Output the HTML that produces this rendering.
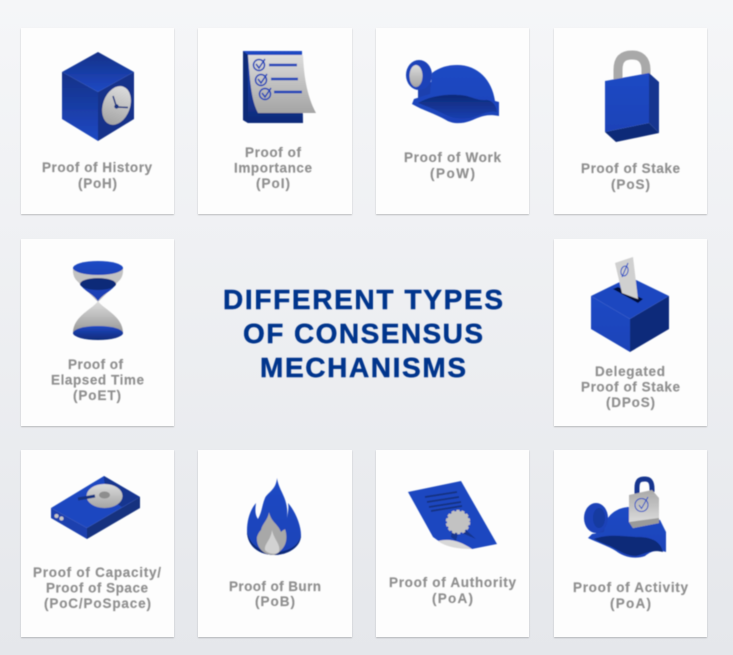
<!DOCTYPE html>
<html lang="en">
<head>
<meta charset="utf-8">
<title>Different Types of Consensus Mechanisms</title>
<style>
html,body{margin:0;padding:0;width:733px;height:655px;overflow:hidden;background:#eceef1}
svg{display:block}
.card{fill:#fdfdfd;filter:url(#cardShadow)}
.lbl{font-family:"Liberation Sans",sans-serif;font-weight:700;font-size:13.5px;fill:#8f8f8f;stroke:#8f8f8f;stroke-width:.15}
.ttl{font-family:"Liberation Sans",sans-serif;font-weight:700;font-size:28px;fill:#05348c;stroke:#05348c;stroke-width:.45}
</style>
</head>
<body>
<svg xmlns="http://www.w3.org/2000/svg" width="733" height="655" viewBox="0 0 733 655">
<defs>
<linearGradient id="pageBg" x1="0" y1="0" x2="0" y2="1"><stop offset="0" stop-color="#f5f6f8"/><stop offset="1" stop-color="#e5e7eb"/></linearGradient>
<linearGradient id="blue" x1="0" y1="0" x2="0" y2="1"><stop offset="0" stop-color="#2049c4"/><stop offset="1" stop-color="#1c43b8"/></linearGradient>
<linearGradient id="blueDown" x1="0" y1="0" x2="0" y2="1"><stop offset="0" stop-color="#123187"/><stop offset="1" stop-color="#2049c4"/></linearGradient>
<linearGradient id="blueUp" x1="0" y1="0" x2="0" y2="1"><stop offset="0" stop-color="#2049c4"/><stop offset="1" stop-color="#0f2a78"/></linearGradient>
<linearGradient id="navy" x1="0" y1="0" x2="0" y2="1"><stop offset="0" stop-color="#0e2a78"/><stop offset="1" stop-color="#1a3fb0"/></linearGradient>
<linearGradient id="navySide" x1="0" y1="0" x2="0" y2="1"><stop offset="0" stop-color="#12307f"/><stop offset="1" stop-color="#1c43b0"/></linearGradient>
<linearGradient id="grey" x1="0" y1="0" x2="0" y2="1"><stop offset="0" stop-color="#dcdcdc"/><stop offset="1" stop-color="#a4a4a4"/></linearGradient>
<linearGradient id="greyUp" x1="0" y1="0" x2="0" y2="1"><stop offset="0" stop-color="#a9a9a9"/><stop offset="1" stop-color="#e4e4e4"/></linearGradient>
<linearGradient id="greyWaist" x1="0" y1="0" x2="0" y2="1"><stop offset="0" stop-color="#dedede"/><stop offset="1" stop-color="#969696"/></linearGradient>
<filter id="cardShadow" x="-5%" y="-5%" width="110%" height="110%"><feDropShadow dx="0" dy="1" stdDeviation="0.8" flood-color="#000" flood-opacity="0.22"/></filter>
<filter id="soft"><feGaussianBlur stdDeviation="0.4"/></filter>
</defs>

<rect width="733" height="655" fill="url(#pageBg)"/>

<g>
<rect class="card" x="21" y="28" width="153" height="186"/>
<rect class="card" x="198" y="28" width="154" height="186"/>
<rect class="card" x="376" y="28" width="153" height="186"/>
<rect class="card" x="554" y="28" width="153" height="186"/>
<rect class="card" x="21" y="239" width="153" height="187"/>
<rect class="card" x="554" y="239" width="153" height="187"/>
<rect class="card" x="21" y="450" width="153" height="187"/>
<rect class="card" x="198" y="450" width="154" height="187"/>
<rect class="card" x="376" y="450" width="153" height="187"/>
<rect class="card" x="554" y="450" width="153" height="187"/>
</g>

<g filter="url(#soft)">
<g>
<polygon points="98,52 134,72 98,92 62,72" fill="url(#blueDown)"/>
<polygon points="62,72 98,92 98,141 62,119" fill="url(#blueDown)"/>
<polygon points="98,92 134,72 134,119 98,141" fill="#13318a"/>
<ellipse cx="116.500" cy="105.500" rx="13.500" ry="20" transform="rotate(20 116.500 105.500)" fill="url(#grey)"/>
<path d="M113,96 L116.500,107 L128,107.500" fill="none" stroke="#12307f" stroke-width="1.500"/>
<circle cx="116.500" cy="106.500" r="2.200" fill="#12307f"/>
</g>

<g>
<polygon points="243,51 302,51 303,123 248,123 243,120" fill="url(#blueUp)"/>
<polygon points="243,51 248,55 248,123 243,120" fill="#0e2a78"/>
<path d="M248,55 L303,55 C304,80 308,98 316,113 L258,113 C251,100 250,80 248,55Z" fill="url(#grey)"/>
<g fill="none" stroke="#1c43b8">
<circle cx="259" cy="65" r="5.500" stroke-width="1.500"/><path d="M256,64 L259,68 L265,59" stroke-width="1.500"/>
<circle cx="261" cy="80" r="5.500" stroke-width="1.500"/><path d="M258,79 L261,83 L267,74" stroke-width="1.500"/>
<circle cx="265" cy="94" r="5.500" stroke-width="1.500"/><path d="M262,93 L265,97 L271,88" stroke-width="1.500"/>
<path d="M269,65 H297 M271,79 H298 M274,92 H302" stroke-width="2.500"/>
</g>
</g>

<g>
<rect x="418" y="82" width="18" height="16" fill="#1b3fae"/>
<path d="M432,73 C440,67 448,65 457,65 C478,65 492,80 495,101 L499,102 L499,116 C485,113 478,118 470,121 C462,124 452,124 446,120 C436,114 422,110 412,104 L414,99 L430,94Z" fill="url(#blue)"/>
<path d="M418,103 C428,97 444,94 458,95 C470,95 476,101 486,100 C492,100 496,105 497,112 C486,110 480,116 470,118 C460,120 452,118 446,115 C436,110 426,106 418,103Z" fill="url(#navy)"/>
<ellipse cx="419" cy="75" rx="13" ry="15" fill="#1c43b8"/>
<ellipse cx="416" cy="76" rx="6.500" ry="11" fill="url(#grey)"/>
</g>

<g>
<path d="M618,84 V70 C618,58 624,55 632,55 C640,55 646,59 646,70 V76" fill="none" stroke="#a9a9a9" stroke-width="9"/>
<polygon points="605,81 649,73 649,123 605,132" fill="url(#blue)"/>
<polygon points="649,73 659,82 659,133 649,123" fill="#15368f"/>
<polygon points="605,132 649,123 659,133 616,142" fill="#0f2a78"/>
</g>

<g>
<path d="M73,268 V272 C74,280 78,281 80,284 L98,302 L116,284 C118,281 122,280 123,272 V268Z" fill="#c2c2c2"/>
<path d="M98,301 C93,309 73,316 73,333 H123 C123,316 103,309 98,301Z" fill="url(#greyWaist)"/>
<ellipse cx="98" cy="268" rx="25" ry="7" fill="url(#blue)"/>
<path d="M80,284 C84,291 92,293 98,301 C104,293 112,291 116,284Z" fill="#1b40b5"/>
<ellipse cx="98" cy="284" rx="18" ry="6" fill="#0f2a78"/>
<ellipse cx="98" cy="333" rx="25" ry="7" fill="url(#blueUp)"/>
</g>

<g>
<polygon points="630,277 669,296 630,319 591,296" fill="#1f47c0"/>
<polygon points="591,296 630,319 630,352 591,329" fill="url(#blue)"/>
<polygon points="630,319 669,296 669,329 630,352" fill="#10297a"/>
<polygon points="613,289 618,287 643,299 638,303" fill="#05103a"/>
<polygon points="615,263 633,257 638,299 622,293" fill="#d0d0d0"/>
<ellipse cx="624.500" cy="271" rx="3.500" ry="5" transform="rotate(15 624.500 271)" fill="none" stroke="#2049c4" stroke-width="1"/>
<path d="M622,277 L628,263" stroke="#2049c4" stroke-width="1"/>
</g>

<g>
<polygon points="104,476 140,497 87,528 51,508" fill="#1f47c0"/>
<polygon points="51,508 87,528 87,539 51,518" fill="#1b3fae"/>
<polygon points="87,528 140,497 140,508 87,539" fill="#12307f"/>
<path d="M104,476 L140,497 L122,507 C110,500 104,490 104,476Z" fill="#14358f"/>
<ellipse cx="104.500" cy="496" rx="18" ry="12" fill="url(#grey)"/>
<ellipse cx="104.500" cy="495" rx="5.500" ry="3.500" fill="#8e8e8e"/>
<path d="M78,499 L95,496" stroke="#12307f" stroke-width="3"/>
<circle cx="56.500" cy="516" r="2" fill="#c8c8c8"/>
<circle cx="61.500" cy="518.500" r="2" fill="#c8c8c8"/>
</g>

<g>
<path d="M277,478 C279,492 289,498 287,518 C288,512 289,508 288,503 C296,512 301,526 301,535 C301,547 288,555 274,555 C259,555 247,546 247,531 C247,520 250,510 256,503 C255,510 255,515 258,519 C262,512 262,505 265,498 C268,492 276,490 277,478Z" fill="url(#blue)"/>
<path d="M247,531 C247,546 259,555 274,555 C288,555 301,547 301,535 C299,546 288,552 274,552 C260,552 249,544 247,531Z" fill="#0f2a78"/>
<path d="M269,512 C271,522 278,524 281,532 C283,530 284,530 285,529 C288,538 287,549 274,555 C262,555 256,546 257,537 C258,534 259,532 261,530 C262,524 268,520 269,512Z" fill="#a8a8a8"/>
<path d="M272,530 C274,540 281,544 279,552 C276,555 268,554 265,550 C264,544 271,540 272,530Z" fill="#d2d2d2"/>
</g>

<g>
<polygon points="408,492 461,481 497,544 472,549 440,542 433,537" fill="#1f47c0"/>
<path d="M438,541 C450,538 460,541 472,549 C458,549 446,547 438,541Z" fill="#d8d8d8"/>
<path d="M425,497 L457,492 M427,502 L459,497 M429,507 L461,502 M431,511 L462,506" stroke="#12307f" stroke-width="1.800"/>
<polygon points="452,530 458,533 456,541 451,537" fill="#14358f"/>
<polygon points="466,530 476,539 469,536 462,533" fill="#14358f"/>
<circle cx="458" cy="522" r="11" fill="#c2c2c2" stroke="#c2c2c2" stroke-width="2.500" stroke-dasharray="3 2"/>
</g>

<g>
<rect x="596" y="522" width="14" height="12" fill="#1b3fae"/>
<path d="M605,523 C610,512 620,507 630,507 L660,520 L666,532 L666,552 C656,549 650,552 645,556 C634,560 622,556 616,551 C608,546 596,542 588,538 L592,534 L604,532Z" fill="url(#blue)"/>
<path d="M594,539 C606,534 622,536 636,537 C650,537 660,540 663,552 C652,549 644,554 636,556 C626,556 618,550 610,546 C604,544 598,541 594,539Z" fill="#0f2a78"/>
<ellipse cx="596" cy="518" rx="12" ry="15" fill="#1c43b8"/>
<ellipse cx="599" cy="518" rx="6" ry="10" fill="#163aa0"/>
<path d="M637,494 V488 C637,480 640,479 645,479 C650,479 652,482 652,489 V492" fill="none" stroke="#14358f" stroke-width="5"/>
<polygon points="629,495 652,490 659,498 659,523 633,528 629,522" fill="url(#greyUp)"/>
<polygon points="629,522 659,518 659,523 633,528" fill="#9a9a9a"/>
<circle cx="641.500" cy="505" r="6.500" fill="none" stroke="#2049c4" stroke-width="1"/>
<path d="M639,505 L641.500,508.500 L648,497" fill="none" stroke="#2049c4" stroke-width="1"/>
</g>
</g>

<g filter="url(#soft)">
<text class="ttl" x="223" y="309" textLength="280" lengthAdjust="spacing">DIFFERENT TYPES</text>
<text class="ttl" x="243" y="343" textLength="240" lengthAdjust="spacing">OF CONSENSUS</text>
<text class="ttl" x="260" y="377" textLength="206" lengthAdjust="spacing">MECHANISMS</text>
</g>

<g filter="url(#soft)">
<text class="lbl" x="42" y="172" textLength="110" lengthAdjust="spacing">Proof of History</text>
<text class="lbl" x="78" y="188" textLength="39" lengthAdjust="spacing">(PoH)</text>
<text class="lbl" x="245" y="157" textLength="56" lengthAdjust="spacing">Proof of</text>
<text class="lbl" x="234" y="172.500" textLength="78" lengthAdjust="spacing">Importance</text>
<text class="lbl" x="256" y="188" textLength="34" lengthAdjust="spacing">(PoI)</text>
<text class="lbl" x="404" y="162" textLength="97" lengthAdjust="spacing">Proof of Work</text>
<text class="lbl" x="430" y="178" textLength="45" lengthAdjust="spacing">(PoW)</text>
<text class="lbl" x="581" y="173" textLength="99" lengthAdjust="spacing">Proof of Stake</text>
<text class="lbl" x="611" y="189" textLength="39" lengthAdjust="spacing">(PoS)</text>
<text class="lbl" x="68" y="369" textLength="55" lengthAdjust="spacing">Proof of</text>
<text class="lbl" x="51" y="384.500" textLength="93" lengthAdjust="spacing">Elapsed Time</text>
<text class="lbl" x="73" y="400" textLength="48" lengthAdjust="spacing">(PoET)</text>
<text class="lbl" x="595" y="376" textLength="70" lengthAdjust="spacing">Delegated</text>
<text class="lbl" x="581" y="391.500" textLength="99" lengthAdjust="spacing">Proof of Stake</text>
<text class="lbl" x="606" y="407" textLength="49" lengthAdjust="spacing">(DPoS)</text>
<text class="lbl" x="33" y="577" textLength="128" lengthAdjust="spacing">Proof of Capacity/</text>
<text class="lbl" x="46" y="592.500" textLength="102" lengthAdjust="spacing">Proof of Space</text>
<text class="lbl" x="44" y="608" textLength="107" lengthAdjust="spacing">(PoC/PoSpace)</text>
<text class="lbl" x="229" y="591" textLength="92" lengthAdjust="spacing">Proof of Burn</text>
<text class="lbl" x="255" y="606" textLength="40" lengthAdjust="spacing">(PoB)</text>
<text class="lbl" x="389" y="587" textLength="127" lengthAdjust="spacing">Proof of Authority</text>
<text class="lbl" x="432" y="603" textLength="41" lengthAdjust="spacing">(PoA)</text>
<text class="lbl" x="573" y="592" textLength="115" lengthAdjust="spacing">Proof of Activity</text>
<text class="lbl" x="610" y="608" textLength="41" lengthAdjust="spacing">(PoA)</text>
</g>
</svg>
</body>
</html>
